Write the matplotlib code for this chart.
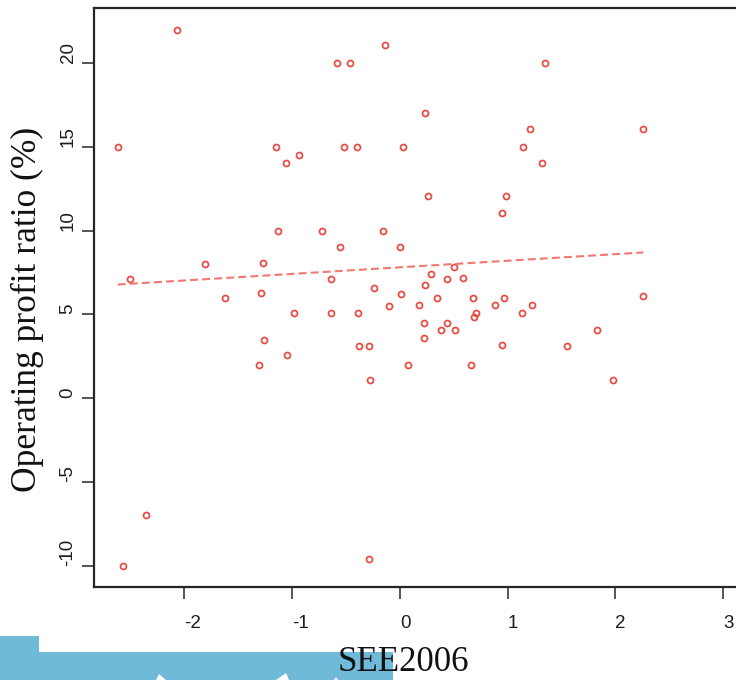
import numpy as np
import matplotlib
matplotlib.use("Agg")
import matplotlib.pyplot as plt
from matplotlib.patches import Polygon

# firm-level observations: SEE score (2006) vs operating profit ratio (%)
see2006 = [-2.62, -2.51, -2.57, -2.36, -2.07, -1.81, -1.62, -1.31, -1.29, -1.27,
           -1.26, -1.15, -1.135, -1.06, -1.05, -0.98, -0.94, -0.72, -0.64, -0.64,
           -0.58, -0.56, -0.515, -0.46, -0.40, -0.39, -0.375, -0.29, -0.29, -0.28,
           -0.24, -0.155, -0.14, -0.10, 0.0, 0.01, 0.025, 0.08, 0.18, 0.22,
           0.22, 0.235, 0.235, 0.26, 0.29, 0.345, 0.38, 0.44, 0.44, 0.50,
           0.51, 0.59, 0.66, 0.675, 0.69, 0.705, 0.885, 0.95, 0.95, 0.965,
           0.99, 1.13, 1.145, 1.21, 1.225, 1.32, 1.35, 1.555, 1.83, 1.98,
           2.26, 2.26]
op_ratio = [15.0, 7.1, -10.0, -7.0, 22.0, 8.0, 6.0, 2.0, 6.25, 8.05,
            3.45, 15.0, 10.0, 14.05, 2.55, 5.05, 14.5, 10.0, 7.1, 5.05,
            20.0, 9.0, 15.0, 20.0, 15.0, 5.05, 3.1, 3.1, -9.6, 1.05,
            6.55, 10.0, 21.05, 5.5, 9.0, 6.2, 15.0, 2.0, 5.55, 4.5,
            3.6, 6.75, 17.0, 12.05, 7.4, 6.0, 4.05, 7.1, 4.5, 7.8,
            4.05, 7.15, 2.0, 6.0, 4.85, 5.05, 5.55, 11.05, 3.15, 6.0,
            12.05, 5.05, 15.0, 16.05, 5.55, 14.05, 20.0, 3.1, 4.05, 1.05,
            16.05, 6.1]
x_ticks = [-2, -1, 0, 1, 2, 3]
y_ticks = [-10, -5, 0, 5, 10, 15, 20]

POINT = "#E84E48"
FIT = "#F07870"
BAR = "#6FBAD8"
INK = "#1E1E1E"

plt.rcParams["font.family"] = ["Liberation Sans", "DejaVu Sans"]

W, H = 736, 680
fig = plt.figure(figsize=(W / 100, H / 100), dpi=100)

# blue banner strip at the bottom edge, drawn in pixel space
deco = fig.add_axes([0, 0, 1, 1], zorder=-1)
deco.set_xlim(0, W); deco.set_ylim(H, 0); deco.axis("off")
deco.add_patch(Polygon([(0, H), (0, 636), (39, 636), (39, 652), (393, 652), (393, H)],
                       closed=True, facecolor=BAR, lw=0))
for tri in ([(156, H), (159, 674), (166, H)], [(276, H), (286, 673), (289, H)],
            [(334, H), (336, 677), (338, H)]):
    deco.add_patch(Polygon(tri, closed=True, facecolor="white", lw=0))

# plot box: left edge at x=94px, 107.7 px per x-unit, runs off the right side
x0, x1 = -2.84, 3.25
y0, y1 = -11.28, 23.28
left_px, bottom_px = 94, 587
ax = fig.add_axes([left_px / W, (H - bottom_px) / H,
                   (x1 - x0) * 107.7 / W, (y1 - y0) * 16.75 / H])
ax.set_xlim(x0, x1)
ax.set_ylim(y0, y1)

ax.plot(see2006, op_ratio, "o", mfc="none", mec=POINT, ms=4.3, mew=1.3)

slope, icpt = np.polyfit(see2006, op_ratio, 1)
xs = np.array([min(see2006), max(see2006)])
ax.plot(xs, icpt + slope * xs, color=FIT, lw=1.5, ls=(0, (3.8, 2.0)))

ax.spines["right"].set_visible(False)
for s in ("left", "top", "bottom"):
    ax.spines[s].set_linewidth(1.6)
    ax.spines[s].set_color("#262626")

# tick labels start at their tick (string runs right / upward from it)
ax.set_xticks(x_ticks)
ax.set_xticklabels([str(v) for v in x_ticks], ha="left")
ax.set_yticks(y_ticks)
ax.set_yticklabels([str(v) for v in y_ticks], rotation=90,
                   rotation_mode="anchor", ha="left", va="bottom")
ax.tick_params(direction="out", length=8.3, width=1.1, color="#262626",
               labelsize=13.5, labelcolor=INK)
ax.tick_params(axis="x", pad=11.5)
ax.tick_params(axis="y", pad=4.3)

ax.set_ylabel("Operating profit ratio (%)", fontfamily="Liberation Serif",
              fontsize=25.5, va="center", color="#111111")
ax.yaxis.set_label_coords(-0.102, 0.479)
ax.set_xlabel("SEE2006", fontfamily="Liberation Serif", fontsize=25,
              va="center", color="#111111")
ax.xaxis.set_label_coords(0.471, -0.131)

fig.savefig("out.png", dpi=100)
